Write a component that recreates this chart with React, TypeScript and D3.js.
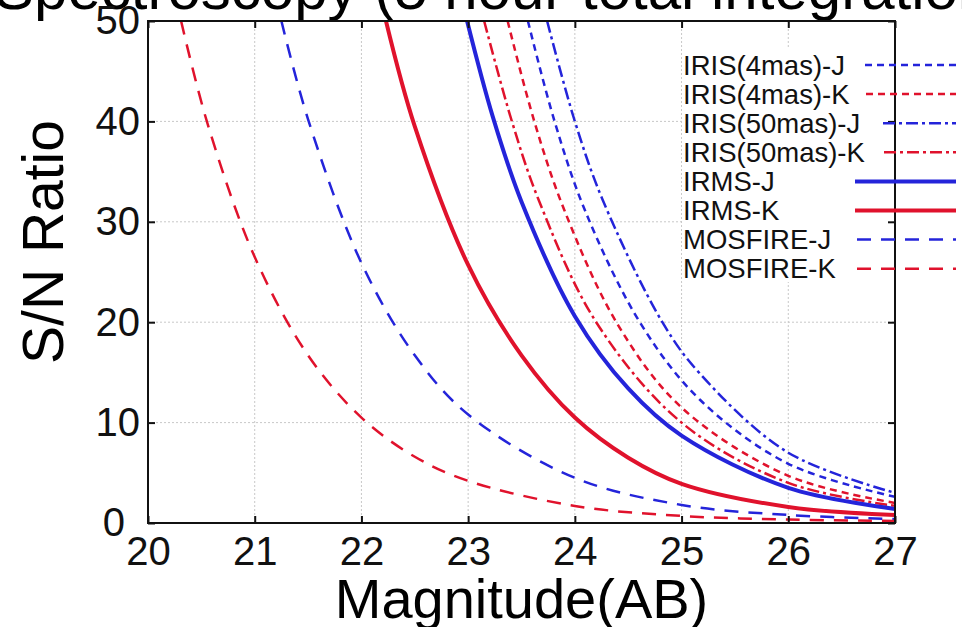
import * as React from "react";
import * as d3 from "d3";

const magTicks = [20, 21, 22, 23, 24, 25, 26, 27];
const snTicks = [0, 10, 20, 30, 40, 50];

// [magnitude, S/N] pairs
const iris4masJ = [[23.56, 50], [23.81, 40], [24.1, 31], [24.62, 19.8], [25.17, 12.3], [26, 5.9], [27, 2.6]];
const iris4masK = [[23.37, 50], [23.62, 40], [23.9, 31.2], [24.4, 19.8], [25, 11.5], [26, 4.7], [27, 2.0]];
const iris50masJ = [[23.74, 50], [24.0, 40], [24.26, 32.2], [24.82, 20], [25.17, 14.9], [26, 7.0], [27, 3.0]];
const iris50masK = [[23.15, 50], [23.41, 40], [23.66, 32.2], [24.2, 20], [25.0, 10], [26, 4.0], [27, 1.7]];
const irmsJ = [[22.99, 50], [23.23, 40.5], [23.5, 32], [24, 20.6], [24.5, 13.4], [25, 8.7], [26, 3.5], [27, 1.4]];
const irmsK = [[22.23, 50], [22.5, 39.5], [23, 25.7], [23.5, 16.7], [24, 10.5], [24.5, 6.5], [25, 3.9], [26, 1.6], [27, 0.8]];
const mosfireJ = [[21.25, 50], [21.5, 40.2], [22, 25.9], [22.5, 16.7], [23, 10.8], [24, 4.5], [25, 1.8], [26, 0.8], [27, 0.4]];
const mosfireK = [[20.31, 50], [20.56, 39.7], [21, 26.5], [21.5, 16.7], [22, 10.5], [22.5, 6.6], [23, 4.2], [24, 1.7], [25, 0.7], [26, 0.35], [27, 0.2]];

const seriesNames = ["IRIS(4mas)-J", "IRIS(4mas)-K", "IRIS(50mas)-J", "IRIS(50mas)-K", "IRMS-J", "IRMS-K", "MOSFIRE-J", "MOSFIRE-K"];
const seriesData = [iris4masJ, iris4masK, iris50masJ, iris50masK, irmsJ, irmsK, mosfireJ, mosfireK];

const blue = "#2424da";
const red = "#e0122c";
const font = "'Liberation Sans', Arial, sans-serif";

const styles = [
  { color: blue, dash: "7,5", w: 2.5, x0: 865 },
  { color: red, dash: "7,5", w: 2.5, x0: 866 },
  { color: blue, dash: "12,4,3,4", w: 2.5, x0: 883 },
  { color: red, dash: "12,4,3,4", w: 2.5, x0: 884 },
  { color: blue, dash: null, w: 4, x0: 855 },
  { color: red, dash: null, w: 4, x0: 855 },
  { color: blue, dash: "14,10", w: 2.5, x0: 857 },
  { color: red, dash: "14,10", w: 2.5, x0: 857 },
];

function drawChart(svgRef) {
  const width = 962;
  const height = 627;
  const left = 148, right = 895, top = 21, bottom = 523;

  const x = d3.scaleLinear().domain([20, 27]).range([left, right]);
  const y = d3.scaleLinear().domain([0, 50]).range([bottom, top]);

  const svg = d3.select(svgRef.current).attr("width", width).attr("height", height);
  svg.selectAll("*").remove();

  svg.append("rect").attr("width", width).attr("height", height).attr("fill", "white");

  // title, cut off at the top of the picture
  svg.append("text")
    .attr("x", -6).attr("y", 9)
    .attr("font-family", font).attr("font-size", 60)
    .text("Spectroscopy (5 hour total integration)");

  // grid
  const grid = svg.append("g").attr("stroke", "#c8c8c8").attr("stroke-dasharray", "2,2").attr("stroke-width", 1);
  grid.selectAll(".gx").data(magTicks.slice(1, -1)).enter().append("line")
    .attr("x1", d => x(d)).attr("x2", d => x(d)).attr("y1", top).attr("y2", bottom);
  grid.selectAll(".gy").data(snTicks.slice(1, -1)).enter().append("line")
    .attr("x1", left).attr("x2", right).attr("y1", d => y(d)).attr("y2", d => y(d));

  // legend background hides the grid behind it
  svg.append("rect").attr("x", 682).attr("y", 48).attr("width", right - 682).attr("height", 234).attr("fill", "white");

  svg.append("clipPath").attr("id", "plotClip")
    .append("rect").attr("x", left).attr("y", top).attr("width", right - left).attr("height", bottom - top);

  const line = d3.line().x(d => x(d[0])).y(d => y(d[1])).curve(d3.curveCatmullRom.alpha(0.5));

  svg.append("g").attr("clip-path", "url(#plotClip)")
    .selectAll("path").data(seriesData).enter().append("path")
    .attr("d", d => line(d))
    .attr("fill", "none")
    .attr("stroke", (d, i) => styles[i].color)
    .attr("stroke-width", (d, i) => styles[i].w)
    .attr("stroke-dasharray", (d, i) => styles[i].dash);

  // axes with inward ticks on all four sides
  svg.append("g").attr("transform", `translate(0,${bottom})`)
    .call(d3.axisBottom(x).tickValues(magTicks).tickSizeInner(-7).tickSizeOuter(0).tickPadding(14).tickFormat(d3.format("d")));
  svg.append("g").attr("transform", `translate(0,${top})`)
    .call(d3.axisTop(x).tickValues(magTicks).tickSizeInner(-7).tickSizeOuter(0).tickFormat(() => ""));
  const leftAxis = svg.append("g").attr("transform", `translate(${left},0)`)
    .call(d3.axisLeft(y).tickValues(snTicks).tickSizeInner(-7).tickSizeOuter(0).tickPadding(8).tickFormat(d3.format("d")));
  svg.append("g").attr("transform", `translate(${right},0)`)
    .call(d3.axisRight(y).tickValues(snTicks).tickSizeInner(-7).tickSizeOuter(0).tickFormat(() => ""));

  svg.selectAll(".domain").remove();
  svg.selectAll(".tick line").attr("stroke", "#111").attr("stroke-width", 2);
  svg.selectAll(".tick text").attr("font-family", font).attr("font-size", 40).attr("fill", "#111");
  leftAxis.selectAll(".tick text").filter(d => d === 0).attr("x", -23);

  // frame
  svg.append("rect").attr("x", left).attr("y", top).attr("width", right - left).attr("height", bottom - top)
    .attr("fill", "none").attr("stroke", "#111").attr("stroke-width", 2);

  // axis titles
  svg.append("text")
    .attr("x", (left + right) / 2).attr("y", 618)
    .attr("text-anchor", "middle").attr("font-family", font).attr("font-size", 56)
    .text("Magnitude(AB)");
  svg.append("text")
    .attr("transform", `translate(63,242) rotate(-90)`)
    .attr("text-anchor", "middle").attr("font-family", font).attr("font-size", 57)
    .text("S/N Ratio");

  // legend
  const rowY = i => 65 + i * 29.1;
  const legend = svg.append("g");
  legend.selectAll("text").data(seriesNames).enter().append("text")
    .attr("x", 683).attr("y", (d, i) => rowY(i) + 9.5)
    .attr("font-family", font).attr("font-size", 27.5).attr("fill", "#111")
    .text(d => d);
  legend.selectAll("line").data(seriesNames).enter().append("line")
    .attr("x1", (d, i) => styles[i].x0).attr("x2", 956)
    .attr("y1", (d, i) => rowY(i)).attr("y2", (d, i) => rowY(i))
    .attr("stroke", (d, i) => styles[i].color)
    .attr("stroke-width", (d, i) => styles[i].w)
    .attr("stroke-dasharray", (d, i) => styles[i].dash);
}

const App = () => {
  const svgRef = React.useRef(null);

  React.useEffect(() => {
    drawChart(svgRef);
  }, [svgRef]);

  return (
    <div style={{ position: "absolute", left: 0, top: 0 }}>
      <svg ref={svgRef} style={{ display: "block" }} />
    </div>
  );
};

export default App;
